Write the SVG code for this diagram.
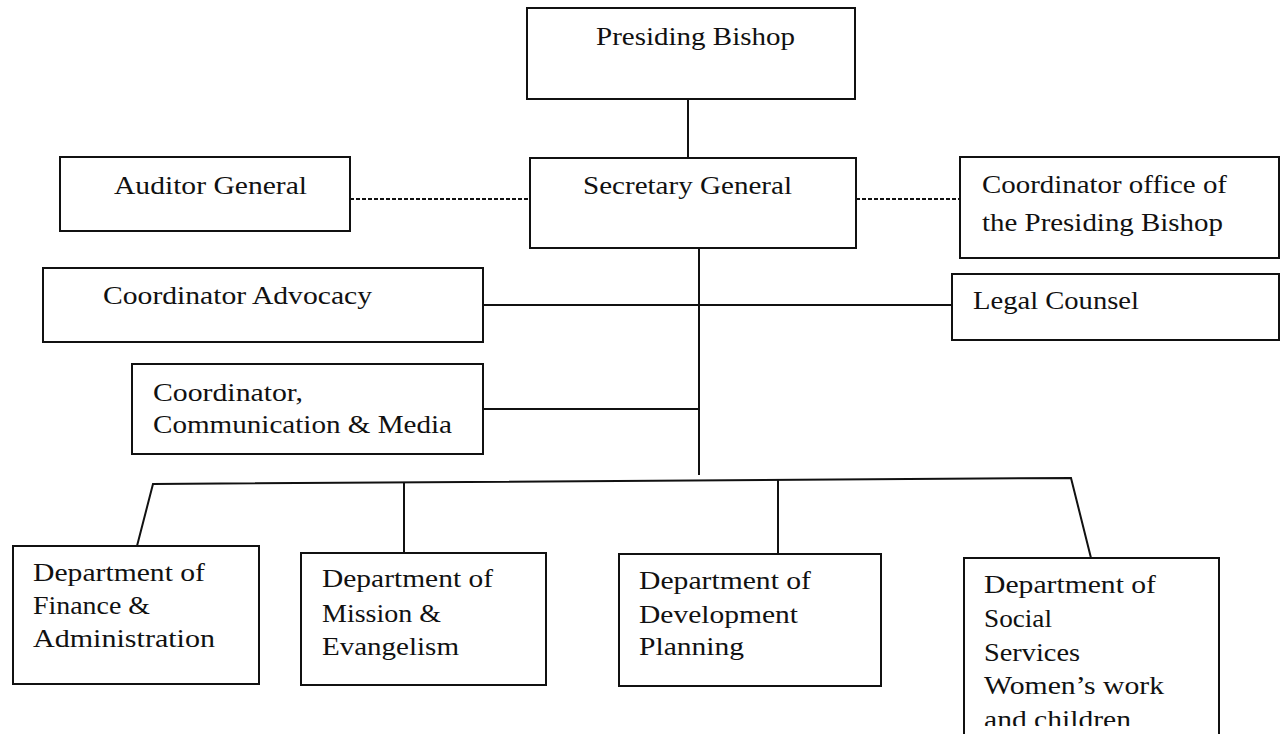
<svg xmlns="http://www.w3.org/2000/svg" width="1281" height="734" viewBox="0 0 1281 734">
<style>
.box{fill:#fff;stroke:#111;stroke-width:2}
.ln{fill:none;stroke:#111;stroke-width:2}
.dash{fill:none;stroke:#111;stroke-width:2;stroke-dasharray:4 2}
text{font-family:"Liberation Serif","Times New Roman",serif;font-size:26px;fill:#111}
</style>
<defs>
<clipPath id="cut"><rect x="0" y="0" width="1281" height="726"/></clipPath>
</defs>
<rect width="1281" height="734" fill="#fff"/>
<g id="connectors">
<line class="ln" x1="688" y1="99" x2="688" y2="158"/>
<line class="dash" x1="350" y1="199" x2="530" y2="199"/>
<line class="dash" x1="856" y1="199" x2="960" y2="199"/>
<line class="ln" x1="699" y1="248" x2="699" y2="475"/>
<line class="ln" x1="483" y1="305" x2="952" y2="305"/>
<line class="ln" x1="483" y1="409" x2="699" y2="409"/>
<polyline class="ln" points="137,546 153,484 1071,478 1091,558"/>
<line class="ln" x1="404" y1="482" x2="404" y2="553"/>
<line class="ln" x1="778" y1="479" x2="778" y2="554"/>
</g>
<g id="presiding-bishop">
<rect class="box" x="527" y="8" width="328" height="91"/>
<text x="596" y="45" textLength="199" lengthAdjust="spacingAndGlyphs">Presiding Bishop</text>
</g>
<g id="secretary-general">
<rect class="box" x="530" y="158" width="326" height="90"/>
<text x="583" y="194" textLength="209" lengthAdjust="spacingAndGlyphs">Secretary General</text>
</g>
<g id="auditor-general">
<rect class="box" x="60" y="157" width="290" height="74"/>
<text x="114" y="194" textLength="193" lengthAdjust="spacingAndGlyphs">Auditor General</text>
</g>
<g id="coordinator-office">
<rect class="box" x="960" y="157" width="319" height="101"/>
<text x="982" y="193" textLength="245" lengthAdjust="spacingAndGlyphs">Coordinator office of</text>
<text x="982" y="231" textLength="241" lengthAdjust="spacingAndGlyphs">the Presiding Bishop</text>
</g>
<g id="coordinator-advocacy">
<rect class="box" x="43" y="268" width="440" height="74"/>
<text x="103" y="304" textLength="269" lengthAdjust="spacingAndGlyphs">Coordinator Advocacy</text>
</g>
<g id="legal-counsel">
<rect class="box" x="952" y="274" width="327" height="66"/>
<text x="973" y="309" textLength="166" lengthAdjust="spacingAndGlyphs">Legal Counsel</text>
</g>
<g id="communication-media">
<rect class="box" x="132" y="364" width="351" height="90"/>
<text x="153" y="401" textLength="150" lengthAdjust="spacingAndGlyphs">Coordinator,</text>
<text x="153" y="433" textLength="299" lengthAdjust="spacingAndGlyphs">Communication &amp; Media</text>
</g>
<g id="finance-administration">
<rect class="box" x="13" y="546" width="246" height="138"/>
<text x="33" y="581" textLength="172" lengthAdjust="spacingAndGlyphs">Department of</text>
<text x="33" y="614" textLength="117" lengthAdjust="spacingAndGlyphs">Finance &amp;</text>
<text x="33" y="647" textLength="182" lengthAdjust="spacingAndGlyphs">Administration</text>
</g>
<g id="mission-evangelism">
<rect class="box" x="301" y="553" width="245" height="132"/>
<text x="322" y="587" textLength="171" lengthAdjust="spacingAndGlyphs">Department of</text>
<text x="322" y="622" textLength="119" lengthAdjust="spacingAndGlyphs">Mission &amp;</text>
<text x="322" y="655" textLength="137" lengthAdjust="spacingAndGlyphs">Evangelism</text>
</g>
<g id="development-planning">
<rect class="box" x="619" y="554" width="262" height="132"/>
<text x="639" y="589" textLength="172" lengthAdjust="spacingAndGlyphs">Department of</text>
<text x="639" y="623" textLength="159" lengthAdjust="spacingAndGlyphs">Development</text>
<text x="639" y="655" textLength="105" lengthAdjust="spacingAndGlyphs">Planning</text>
</g>
<g id="social-services">
<path class="ln" d="M964,735 V558 H1219 V735"/>
<text x="984" y="593" textLength="172" lengthAdjust="spacingAndGlyphs">Department of</text>
<text x="984" y="627" textLength="68" lengthAdjust="spacingAndGlyphs">Social</text>
<text x="984" y="661" textLength="96" lengthAdjust="spacingAndGlyphs">Services</text>
<text x="984" y="694" textLength="180" lengthAdjust="spacingAndGlyphs">Women’s work</text>
<text x="984" y="728" textLength="147" lengthAdjust="spacingAndGlyphs" clip-path="url(#cut)">and children</text>
</g>
</svg>
